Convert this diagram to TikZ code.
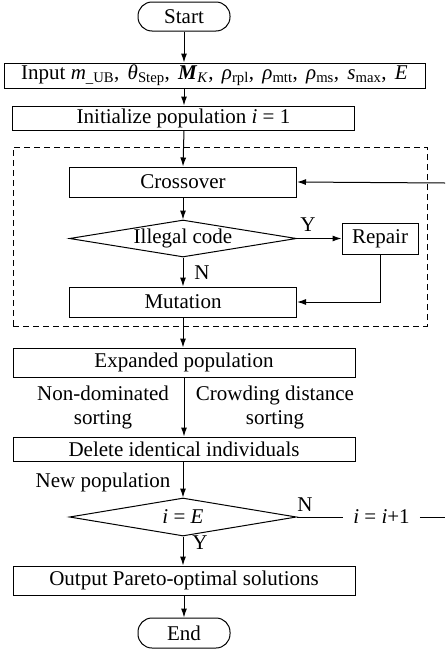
\documentclass[tikz,border=0pt]{standalone}
\usepackage{fontspec}
\setmainfont{Liberation Serif}
\usepackage{tikz}
\usetikzlibrary{shapes.geometric, arrows.meta}

\tikzset{
  proc/.style={draw, rectangle, inner sep=0pt, line width=1pt},
  term/.style={draw, rectangle, rounded corners=14pt, inner sep=0pt, line width=1pt,
    minimum width=92pt, minimum height=29pt},
  decision/.style={draw, diamond, inner sep=0pt, line width=1pt,
    minimum width=227pt, minimum height=37pt},
  flow/.style={line width=1pt, -{Latex[length=9pt,width=6pt]}},
  plain/.style={line width=1pt}
}
\newcommand{\sepc}{,\hspace{8.3pt}}

\begin{document}
\begin{tikzpicture}[x=1pt, y=-1pt, every node/.style={font=\fontsize{21}{24}\selectfont}]
    \useasboundingbox (0,0) rectangle (445,651);

    % Start and inputs
    \node[term] (start) at (184,16.5) {Start};
    \node[proc, minimum width=421pt, minimum height=25pt] (input) at (214.5,75.5)
      {Input \textit{m}\textsubscript{\_UB}\sepc \textit{θ}\textsubscript{Step}\sepc
       \textbf{\textit{M}}\textsubscript{\textit{K}}\sepc \textit{ρ}\textsubscript{rpl}\sepc
       \textit{ρ}\textsubscript{mtt}\sepc \textit{ρ}\textsubscript{ms}\sepc
       \textit{s}\textsubscript{max}\sepc \textit{E}};
    \node[proc, minimum width=342pt, minimum height=24pt] (init) at (183.5,118)
      {Initialize population \textit{i} = 1};

    % Dashed frame round the genetic operators
    \node[draw, dash pattern=on 6pt off 4pt, line width=1pt, minimum width=414pt, minimum height=179pt] (loopbox) at (220,236.5) {};

    % Crossover, check and mutation
    \node[proc, minimum width=227pt, minimum height=30pt] (cross) at (183,182) {Crossover};
    \node[decision] (illegal) at (183,238.5) {\makebox[0pt]{Illegal code}};
    \node[proc, minimum width=76pt, minimum height=31pt] (repair) at (380,238.5) {Repair};
    \node[proc, minimum width=227pt, minimum height=30pt] (mut) at (183,302) {Mutation};

    % Sorting
    \node[proc, minimum width=342pt, minimum height=29pt] (expand) at (184,362.5) {Expanded population};
    \node[align=center] (nds) at (103,407) {Non-dominated\\sorting};
    \node[align=center] (cds) at (275,407) {Crowding distance\\sorting};
    \node[proc, minimum width=342pt, minimum height=24pt] (delete) at (184,449) {Delete identical individuals};
    \node (newpop) at (103,482) {New population};

    % Termination check
    \node[decision, minimum height=38pt] (stop) at (183,517) {\makebox[0pt]{\textit{i} = \textit{E}}};
    \node[inner sep=0pt, inner xsep=10pt] (inc) at (381.5,517) {\textit{i} = \textit{i}+1};
    \node[proc, minimum width=342pt, minimum height=29pt] (output) at (184,580.5) {Output Pareto-optimal solutions};
    \node[term, minimum height=30pt] (end) at (184,633) {End};

    % Branch labels
    \node (ylab1) at (308,225) {Y};
    \node (nlab1) at (202,273) {N};
    \node (nlab2) at (305,505) {N};
    \node (ylab2) at (200,543) {Y};

    \coordinate (back) at (445,183);
    \coordinate (edge) at (445,517);

    % Connectors
    \draw[flow] (start.south) -- (start.south |- input.north);
    \draw[flow] (start.south |- input.south) -- (start.south |- init.north);
    \draw[flow] (start.south |- init.south) -- (cross.north);
    \draw[flow] (cross.south) -- (illegal.north);
    \draw[flow] (illegal.east) -- (repair.west);
    \draw[flow] (illegal.south) -- (mut.north);
    \draw[flow] (repair.south) |- (mut.east);
    \draw[flow] (mut.south) -- (mut.south |- expand.north);
    \draw[flow] (expand.south) -- (delete.north);
    \draw[flow] (delete.south) -- (delete.south -| stop.north) -- (stop.north);
    \draw[plain] (stop.east) -- (inc.west);
    \draw[plain] (inc.east) -- (edge);
    \draw[flow] (back) -- (cross.east);
    \draw[flow] (stop.south) -- (stop.south |- output.north);
    \draw[flow] (output.south) -- (end.north);
\end{tikzpicture}
\end{document}
